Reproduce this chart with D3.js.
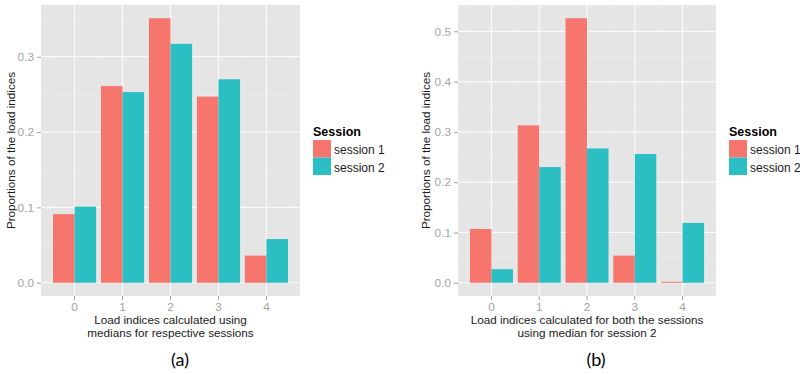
<!DOCTYPE html>
<head>
    <meta charset="utf-8">
    <script src="https://d3js.org/d3.v7.min.js"></script>
</head>
<style>
    body { margin: 0; background: #fff; }
    text { font-family: "Liberation Sans", Arial, sans-serif; }
</style>
<body>
    <div id="chart"></div>
</body>

<script>
    // categories and series
    const loadIndex = [0, 1, 2, 3, 4];
    const sessions = ["session 1", "session 2"];

    // panel (a): medians for respective sessions
    const aSession1 = [0.091, 0.261, 0.351, 0.247, 0.036];
    const aSession2 = [0.101, 0.253, 0.317, 0.270, 0.058];
    const aTicks = [0.0, 0.1, 0.2, 0.3];

    // panel (b): median for session 2
    const bSession1 = [0.107, 0.313, 0.526, 0.054, 0.002];
    const bSession2 = [0.027, 0.230, 0.267, 0.256, 0.119];
    const bTicks = [0.0, 0.1, 0.2, 0.3, 0.4, 0.5];

    const colors = {"session 1": "#F6766D", "session 2": "#2BBEC3"};

    const svg = d3.select("#chart")
        .append("svg")
        .attr("width", 800)
        .attr("height", 374);

    function drawPanel(opt) {
        const left = opt.left, right = opt.right, top = 5, bottom = 296;
        const g = svg.append("g");

        const rows = [];
        loadIndex.forEach((k, i) => {
            rows.push({k: k, s: sessions[0], v: opt.s1[i]});
            rows.push({k: k, s: sessions[1], v: opt.s2[i]});
        });

        const maxV = d3.max(rows, d => d.v);
        const y = d3.scaleLinear()
            .domain([-maxV * 0.05, maxV * 1.05])
            .range([bottom, top]);

        const x = d3.scaleBand()
            .domain(loadIndex)
            .range([left, right])
            .paddingInner(0.1)
            .paddingOuter(0.25);
        const xs = d3.scaleBand()
            .domain(sessions)
            .range([0, x.bandwidth()]);
        const step = x.step();

        // panel background
        g.append("rect")
            .attr("x", left).attr("y", top)
            .attr("width", right - left).attr("height", bottom - top)
            .attr("fill", "#e5e5e5");

        // minor grid
        const minorY = opt.ticks.map(t => t + 0.05).filter(t => y(t) > top);
        g.selectAll(".minY").data(minorY).join("line")
            .attr("x1", left).attr("x2", right)
            .attr("y1", d => y(d)).attr("y2", d => y(d))
            .attr("stroke", "#f0f0f0").attr("stroke-width", 0.6);
        const minorX = [-0.5, 0.5, 1.5, 2.5, 3.5, 4.5];
        g.selectAll(".minX").data(minorX).join("line")
            .attr("x1", d => x(0) + x.bandwidth() / 2 + d * step)
            .attr("x2", d => x(0) + x.bandwidth() / 2 + d * step)
            .attr("y1", top).attr("y2", bottom)
            .attr("stroke", "#ebebeb").attr("stroke-width", 0.6);

        // major grid
        g.selectAll(".majY").data(opt.ticks).join("line")
            .attr("x1", left).attr("x2", right)
            .attr("y1", d => y(d)).attr("y2", d => y(d))
            .attr("stroke", "#fafafa").attr("stroke-width", 1.2);
        g.selectAll(".majX").data(loadIndex).join("line")
            .attr("x1", d => x(d) + x.bandwidth() / 2)
            .attr("x2", d => x(d) + x.bandwidth() / 2)
            .attr("y1", top).attr("y2", bottom)
            .attr("stroke", "#fafafa").attr("stroke-width", 1.2);

        // bars
        g.selectAll(".bar").data(rows).join("rect")
            .attr("x", d => x(d.k) + xs(d.s))
            .attr("y", d => y(d.v))
            .attr("width", xs.bandwidth())
            .attr("height", d => y(0) - y(d.v))
            .attr("fill", d => colors[d.s]);

        // axes
        const yAxis = g.append("g")
            .attr("transform", `translate(${left},0)`)
            .call(d3.axisLeft(y).tickValues(opt.ticks).tickFormat(d3.format(".1f")).tickSize(4).tickPadding(3));
        const xAxis = g.append("g")
            .attr("transform", `translate(0,${bottom})`)
            .call(d3.axisBottom(x).tickSize(4).tickPadding(3));
        [yAxis, xAxis].forEach(a => {
            a.select(".domain").remove();
            a.selectAll(".tick line").attr("stroke", "#a0a0a0");
            a.selectAll(".tick text")
                .attr("fill", "#a3a3a3")
                .style("font-size", "11.8px")
                .style("font-family", '"Liberation Sans", Arial, sans-serif');
        });

        // axis titles
        g.append("text")
            .attr("transform", `translate(${opt.yTitleX},${(top + bottom) / 2}) rotate(-90)`)
            .attr("text-anchor", "middle")
            .attr("dominant-baseline", "middle")
            .attr("fill", "#1a1a1a")
            .style("font-size", "11.7px")
            .text("Proportions of the load indices");

        const cx = (left + right) / 2;
        opt.xTitle.forEach((line, i) => {
            g.append("text")
                .attr("x", cx).attr("y", 324 + i * 12.5)
                .attr("text-anchor", "middle")
                .attr("fill", "#1a1a1a")
                .style("font-size", "11.7px")
                .text(line);
        });

        // legend
        const lg = g.append("g").attr("transform", `translate(${right + 13},0)`);
        lg.append("text")
            .attr("x", 0).attr("y", 136)
            .style("font-size", "12.5px")
            .style("font-weight", "bold")
            .text("Session");
        sessions.forEach((s, i) => {
            lg.append("rect")
                .attr("x", 0).attr("y", 140 + i * 17.5)
                .attr("width", 18).attr("height", 17.5)
                .attr("fill", colors[s]);
            lg.append("text")
                .attr("x", 21).attr("y", 154 + i * 17.5)
                .style("font-size", "12px")
                .attr("fill", "#1a1a1a")
                .text(s);
        });

        // panel label
        g.append("text")
            .attr("x", opt.labelX).attr("y", 366)
            .attr("text-anchor", "middle")
            .style("font-family", "Lato, 'Open Sans', sans-serif")
            .style("font-size", "18px")
            .text(opt.label);
    }

    drawPanel({
        left: 41, right: 300, s1: aSession1, s2: aSession2, ticks: aTicks,
        yTitleX: 12, label: "(a)", labelX: 180,
        xTitle: ["Load indices calculated using", "medians for respective sessions"]
    });
    drawPanel({
        left: 458, right: 716, s1: bSession1, s2: bSession2, ticks: bTicks,
        yTitleX: 427, label: "(b)", labelX: 596,
        xTitle: ["Load indices calculated for both the sessions", "using median for session 2"]
    });
</script>
